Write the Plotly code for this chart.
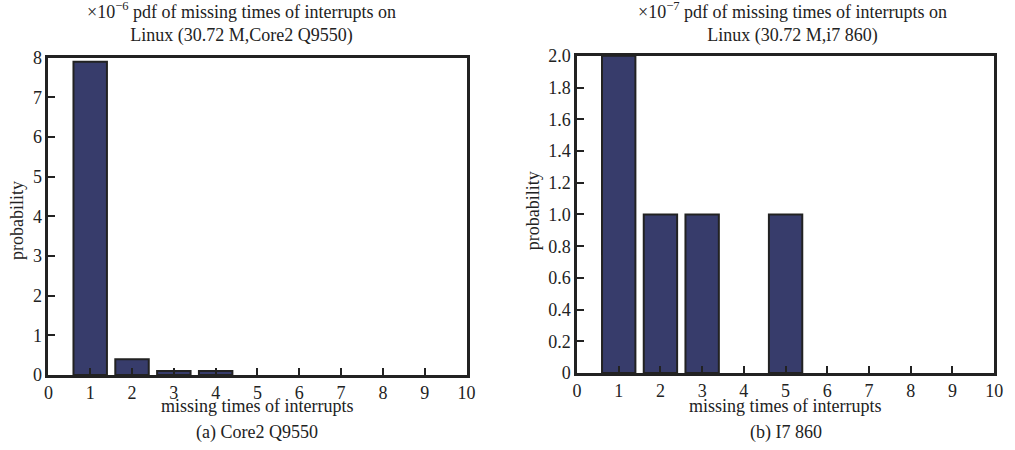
import plotly.graph_objects as go

# Data
categories = [1, 2, 3, 4, 5, 6, 7, 8, 9]
core2_vals = [7.9, 0.40, 0.10, 0.10, 0.0, 0.0, 0.0, 0.0, 0.0]   # x1e-6
i7_vals = [2.0, 1.0, 1.0, 0.0, 1.0, 0.0, 0.0, 0.0, 0.0]        # x1e-7
x_ticks = list(range(0, 11))
left_y_ticks = [0, 1, 2, 3, 4, 5, 6, 7, 8]
right_y_ticks = [0, 0.2, 0.4, 0.6, 0.8, 1.0, 1.2, 1.4, 1.6, 1.8, 2.0]
right_y_labels = ["0", "0.2", "0.4", "0.6", "0.8", "1.0", "1.2", "1.4", "1.6", "1.8", "2.0"]

titles = ["×10<sup>−6</sup> pdf of missing times of interrupts on<br>Linux (30.72 M,Core2 Q9550)",
          "×10<sup>−7</sup> pdf of missing times of interrupts on<br>Linux (30.72 M,i7 860)"]
subtitles = ["(a) Core2 Q9550", "(b) I7 860"]
xlabel = "missing times of interrupts"
ylabel = "probability"

FONT = "Liberation Serif, Times New Roman, serif"
BAR = "#373c6b"
LINE = "#222222"
TXT = "#222222"
W, H = 1015, 450


def outline_widths(vals):
    return [2 if v > 0 else 0 for v in vals]


fig = go.Figure()
fig.add_trace(go.Bar(x=categories, y=core2_vals, width=0.8, xaxis="x", yaxis="y",
                     marker=dict(color=BAR, line=dict(color=LINE, width=outline_widths(core2_vals))),
                     showlegend=False))
fig.add_trace(go.Bar(x=categories, y=i7_vals, width=0.8, xaxis="x2", yaxis="y2",
                     marker=dict(color=BAR, line=dict(color=LINE, width=outline_widths(i7_vals))),
                     showlegend=False))

# pixel boxes
L = dict(x0=44, x1=468, y0=50, y1=382)
R = dict(x0=580, x1=1003, y0=48, y1=380)


def xd(b): return [b["x0"] / W, b["x1"] / W]
def yd(b): return [1 - b["y1"] / H, 1 - b["y0"] / H]


axis_common = dict(showline=True, linecolor=LINE, linewidth=2.5, mirror=True,
                   ticks="inside", ticklen=7, tickwidth=2, tickcolor=LINE,
                   showgrid=False, zeroline=False,
                   tickfont=dict(family=FONT, size=18, color=TXT))

fig.update_layout(
    width=W, height=H, margin=dict(l=0, r=0, t=0, b=0),
    paper_bgcolor="white", plot_bgcolor="white",
    font=dict(family=FONT, size=18, color=TXT),
    xaxis=dict(domain=xd(L), range=[0, 10], tickvals=x_ticks, anchor="y", **axis_common),
    yaxis=dict(domain=yd(L), range=[0, 8], tickvals=left_y_ticks, anchor="x", **axis_common),
    xaxis2=dict(domain=xd(R), range=[0, 10], tickvals=x_ticks, anchor="y2", **axis_common),
    yaxis2=dict(domain=yd(R), range=[0, 2], tickvals=right_y_ticks, ticktext=right_y_labels,
                anchor="x2", **axis_common),
)

ann = []
for b, t, s, tx in [(L, titles[0], subtitles[0], 240), (R, titles[1], subtitles[1], 799)]:
    ann.append(dict(text=t, x=tx / W, y=1 - 13 / H, xref="paper", yref="paper",
                    showarrow=False, xanchor="center", yanchor="middle",
                    font=dict(family=FONT, size=18, color=TXT)))
    cx = (b["x0"] + b["x1"]) / 2
    ann.append(dict(text=xlabel, x=cx / W, y=1 - 414 / H, xref="paper", yref="paper",
                    showarrow=False, xanchor="center", yanchor="middle",
                    font=dict(family=FONT, size=18, color=TXT)))
    ann.append(dict(text=s, x=cx / W, y=1 - 442 / H, xref="paper", yref="paper",
                    showarrow=False, xanchor="center", yanchor="middle",
                    font=dict(family=FONT, size=18, color=TXT)))
ann.append(dict(text=ylabel, x=12 / W, y=1 - 220 / H, xref="paper", yref="paper", textangle=-90,
                showarrow=False, xanchor="center", yanchor="middle",
                font=dict(family=FONT, size=18, color=TXT)))
ann.append(dict(text=ylabel, x=535 / W, y=1 - 210 / H, xref="paper", yref="paper", textangle=-90,
                showarrow=False, xanchor="center", yanchor="middle",
                font=dict(family=FONT, size=18, color=TXT)))
fig.update_layout(annotations=ann)

fig.write_html("out.html")
